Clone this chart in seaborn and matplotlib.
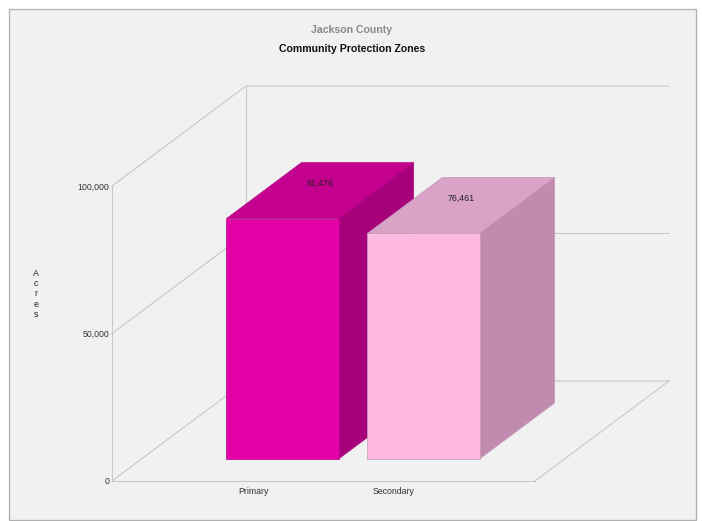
import numpy as np
import matplotlib
matplotlib.use("Agg")
import matplotlib.pyplot as plt
from matplotlib.patches import Polygon, Rectangle
from matplotlib.lines import Line2D
from matplotlib.transforms import offset_copy, IdentityTransform
import seaborn as sns

# Data
zones = ["Primary", "Secondary"]
acres = [81476, 76461]
value_labels = ["81,476", "76,461"]
y_ticks = [0, 50000, 100000]
y_tick_labels = ["0", "50,000", "100,000"]

# Face colours per bar: front, top, side
front_colors = ["#E600A8", "#FFBAE4"]
top_colors = ["#C4008F", "#D9A3C8"]
side_colors = ["#A6007B", "#C08BAE"]
edge_colors = ["#B8008A", "#C79AB6"]

sns.set_theme(style="white")
plt.rcParams["font.family"] = ["Liberation Sans", "DejaVu Sans"]

W, H = 702, 521
fig = plt.figure(figsize=(W / 100, H / 100), dpi=100)
fig.patch.set_facecolor("white")

# Panel background with thin border
fig.add_artist(Rectangle((9 / W, 1 / H), 687 / W, 511 / H, transform=fig.transFigure,
                         facecolor="#F1F1F1", edgecolor="#AFAFAF", lw=0.9, zorder=0))

# Front plane of the 3D box
ax = fig.add_axes([112 / W, 40 / H, 423 / W, 295 / H])
ax.set_facecolor("none")

# 3D depth geometry (pixels for full depth) and bar depth span
DX, DY = 134.0, 100.0
D0, D1 = 0.22, 0.78
BAR_W = 0.795

sns.barplot(x=zones, y=acres, hue=zones, palette=front_colors, saturation=1,
            legend=False, width=BAR_W, ax=ax)
ax.set_xlim(-1, 2)
ax.set_ylim(0, 100000)
ax.set_yticks(y_ticks)
ax.set_yticklabels(y_tick_labels)
ax.tick_params(axis="both", length=0, labelsize=6.3, labelcolor="#333333")
ax.tick_params(axis="y", pad=2)
ax.tick_params(axis="x", pad=4)
ax.set_xlabel("")
ax.set_ylabel("")
for side in ["top", "right"]:
    ax.spines[side].set_visible(False)
for side in ["left", "bottom"]:
    ax.spines[side].set_color("#C8C8C8")
    ax.spines[side].set_linewidth(0.8)


def proj(x, y, d):
    px, py = ax.transData.transform((x, y))
    return (px + DX * d, py + DY * d)


grid_kw = dict(color="#C8C8C8", lw=0.8, transform=IdentityTransform(), zorder=1)

# Side wall, back wall and floor lines
for v in y_ticks:
    pts = [proj(-1, v, 0), proj(-1, v, 1), proj(2, v, 1)]
    xs, ys = zip(*pts)
    fig.add_artist(Line2D(xs, ys, **grid_kw))
for a, b in [((-1, 0, 1), (-1, 100000, 1)), ((2, 0, 0), (2, 0, 1))]:
    xs, ys = zip(proj(*a), proj(*b))
    fig.add_artist(Line2D(xs, ys, **grid_kw))

# Shift the front faces drawn by seaborn into the bar plane, then add top and side faces
front_shift = offset_copy(ax.transData, fig=fig, x=DX * D0, y=DY * D0, units="dots")
label_shift = offset_copy(ax.transData, fig=fig, x=DX * (D0 + D1) / 2,
                          y=DY * (D0 + D1) / 2 + 7, units="dots")
bars = list(ax.patches)
for i, (patch, h) in enumerate(zip(bars, acres)):
    x0 = patch.get_x()
    x1 = x0 + patch.get_width()
    z = 3 + 2 * i
    top = [proj(x0, h, D0), proj(x1, h, D0), proj(x1, h, D1), proj(x0, h, D1)]
    side = [proj(x1, 0, D0), proj(x1, h, D0), proj(x1, h, D1), proj(x1, 0, D1)]
    fig.add_artist(Polygon(top, closed=True, facecolor=top_colors[i], edgecolor=edge_colors[i],
                           lw=0.5, transform=IdentityTransform(), zorder=z))
    fig.add_artist(Polygon(side, closed=True, facecolor=side_colors[i], edgecolor=edge_colors[i],
                           lw=0.5, transform=IdentityTransform(), zorder=z))
    # front face: move it from the axes onto the figure, above the wall lines
    patch.remove()
    patch.set_transform(front_shift)
    patch.set_clip_on(False)
    patch.set_edgecolor(edge_colors[i])
    patch.set_linewidth(0.5)
    patch.set_zorder(z + 1)
    fig.add_artist(patch)
    # value label on the top face
    fig.text(x0 + patch.get_width() / 2, h, value_labels[i], transform=label_shift,
             ha="center", va="center", fontsize=6.3, color="#222222", zorder=20)

# Titles
fig.text(352 / W, 1 - 30 / H, "Jackson County", ha="center", va="center",
         fontsize=7.6, fontweight="bold", color="#8A8A8A")
fig.text(352 / W, 1 - 49 / H, "Community Protection Zones", ha="center", va="center",
         fontsize=7.6, fontweight="bold", color="#111111")

# Stacked axis title
fig.text(36 / W, 1 - 294 / H, "A\nc\nr\ne\ns", ha="center", va="center",
         fontsize=6.3, color="#222222", linespacing=1.2)

fig.savefig("out.png", dpi=100, facecolor=fig.get_facecolor())
